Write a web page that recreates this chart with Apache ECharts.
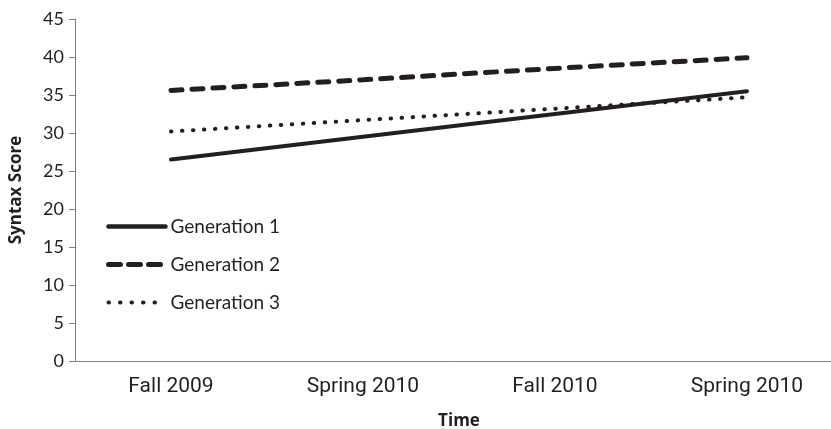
<!DOCTYPE html>
<html>
<head>
<meta charset="utf-8">
<script src="https://cdn.jsdelivr.net/npm/echarts@6/dist/echarts.min.js"></script>
<style>
html, body { margin: 0; padding: 0; background: #fff; }
#chart { width: 831px; height: 429px; }
</style>
</head>
<body>
<div id="chart"></div>
<script>
"use strict";
var times = ['Fall 2009', 'Spring 2010', 'Fall 2010', 'Spring 2010'];
var gen1 = [26.5, 29.5, 32.5, 35.5];
var gen2 = [35.6, 37.0, 38.5, 39.9];
var gen3 = [30.2, 31.7, 33.2, 34.7];
var ink = '#231f20';

var myChart = echarts.init(document.getElementById('chart'));
myChart.setOption({
    animation: false,
    grid: { left: 75, right: -12, top: 19, bottom: 68, outerBoundsMode: 'none' },
    legend: {
        orient: 'vertical',
        left: 101, top: 212,
        itemWidth: 57, itemHeight: 14, itemGap: 19,
        itemStyle: { opacity: 0 },
        textStyle: { fontFamily: 'Lato', fontSize: 19, color: ink },
        data: [
            { name: 'Generation 1', lineStyle: { width: 4.5 } },
            { name: 'Generation 2', lineStyle: { width: 5, type: [12, 8] } },
            { name: 'Generation 3', lineStyle: { width: 4, type: [0.5, 11] } }
        ]
    },
    xAxis: {
        type: 'category',
        data: times,
        name: 'Time',
        nameLocation: 'middle',
        nameGap: 52,
        nameTextStyle: { fontFamily: 'Open Sans', fontWeight: 'bold', fontSize: 17, color: ink },
        axisLine: { lineStyle: { color: '#7f7f7f', width: 1 } },
        axisTick: { length: 6, lineStyle: { color: '#7f7f7f' } },
        axisLabel: { margin: 15, fontFamily: 'Roboto', fontSize: 21, color: ink }
    },
    yAxis: {
        type: 'value',
        min: 0, max: 45, interval: 5,
        name: 'Syntax Score',
        nameLocation: 'middle',
        nameGap: 50,
        nameTextStyle: { fontFamily: 'Open Sans', fontWeight: 'bold', fontSize: 17, color: ink },
        splitLine: { show: false },
        axisLine: { show: true, lineStyle: { color: '#7f7f7f', width: 1 } },
        axisTick: { show: true, length: 6, lineStyle: { color: '#7f7f7f' } },
        axisLabel: { margin: 11, fontFamily: 'Lato', fontSize: 18, color: ink }
    },
    series: [
        {
            name: 'Generation 1', type: 'line', data: gen1, symbol: 'none',
            itemStyle: { color: ink },
            lineStyle: { color: ink, width: 4, cap: 'round' }
        },
        {
            name: 'Generation 2', type: 'line', data: gen2, symbol: 'none',
            itemStyle: { color: ink },
            lineStyle: { color: ink, width: 5, type: [11, 10], cap: 'round' }
        },
        {
            name: 'Generation 3', type: 'line', data: gen3, symbol: 'none',
            itemStyle: { color: ink },
            lineStyle: { color: ink, width: 4, type: [0.5, 10.5], cap: 'round' }
        }
    ]
});
</script>
</body>
</html>
